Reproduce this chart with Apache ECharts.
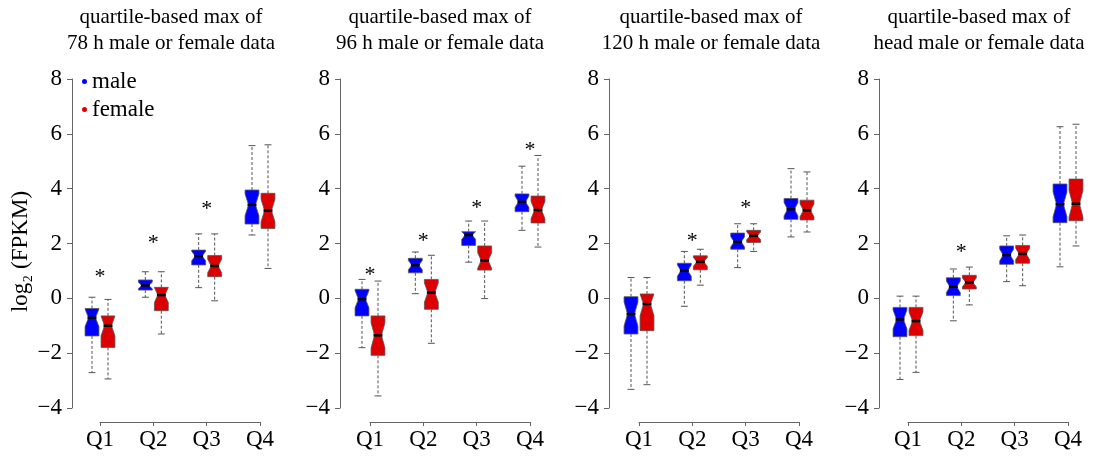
<!DOCTYPE html>
<html>
<head>
<meta charset="utf-8">
<script src="https://cdn.jsdelivr.net/npm/echarts@6/dist/echarts.min.js"></script>
<style>
  html, body { margin: 0; padding: 0; background: #fff; }
  #chart { width: 1093px; height: 458px; }
</style>
</head>
<body>
<div id="chart"></div>
<script>
// categories and panel titles
const categories = ["Q1", "Q2", "Q3", "Q4"];
const titles = [
  "quartile-based max of\n78 h male or female data",
  "quartile-based max of\n96 h male or female data",
  "quartile-based max of\n120 h male or female data",
  "quartile-based max of\nhead male or female data",
];

// box stats per quartile: [low whisker, Q1, median, Q3, high whisker]
const male78 = [
  [-2.71, -1.37, -0.71, -0.37, 0.04],
  [0.04, 0.30, 0.47, 0.67, 0.97],
  [0.39, 1.22, 1.54, 1.76, 2.35],
  [2.31, 2.71, 3.41, 3.95, 5.57],
];
const female78 = [
  [-2.94, -1.79, -1.00, -0.64, -0.04],
  [-1.30, -0.45, 0.12, 0.40, 0.97],
  [-0.09, 0.79, 1.18, 1.56, 2.35],
  [1.09, 2.55, 3.20, 3.83, 5.60],
];
const male96 = [
  [-1.80, -0.64, -0.03, 0.33, 0.69],
  [0.17, 0.93, 1.21, 1.46, 1.69],
  [1.32, 1.93, 2.31, 2.43, 2.82],
  [2.48, 3.16, 3.52, 3.81, 4.82],
];
const female96 = [
  [-3.56, -2.08, -1.35, -0.64, 0.63],
  [-1.64, -0.40, 0.21, 0.69, 1.57],
  [-0.01, 1.03, 1.38, 1.91, 2.82],
  [1.87, 2.75, 3.22, 3.73, 5.21],
];
const male120 = [
  [-3.32, -1.30, -0.57, 0.06, 0.76],
  [-0.29, 0.64, 1.01, 1.28, 1.71],
  [1.12, 1.79, 2.06, 2.38, 2.72],
  [2.24, 2.88, 3.25, 3.64, 4.73],
];
const female120 = [
  [-3.15, -1.18, -0.21, 0.16, 0.76],
  [0.48, 1.04, 1.33, 1.55, 1.79],
  [1.71, 2.04, 2.28, 2.48, 2.72],
  [2.42, 2.86, 3.21, 3.58, 4.61],
];
const maleHead = [
  [-2.96, -1.40, -0.77, -0.33, 0.08],
  [-0.82, 0.10, 0.42, 0.75, 1.07],
  [0.61, 1.24, 1.58, 1.91, 2.28],
  [1.15, 2.76, 3.43, 4.17, 6.26],
];
const femaleHead = [
  [-2.70, -1.36, -0.83, -0.33, 0.08],
  [-0.24, 0.34, 0.58, 0.84, 1.14],
  [0.46, 1.28, 1.62, 1.93, 2.31],
  [1.91, 2.83, 3.45, 4.35, 6.35],
];

// significance asterisks (null = none)
const stars78 = [0.95, 2.19, 3.44, null];
const stars96 = [1.02, 2.25, 3.46, 5.6];
const stars120 = [null, 2.25, 3.47, null];
const starsHead = [null, 1.88, null, null];

const yTicks = { min: -4, max: 8, interval: 2 };

const panels = [
  { male: male78, female: female78, stars: stars78 },
  { male: male96, female: female96, stars: stars96 },
  { male: male120, female: female120, stars: stars120 },
  { male: maleHead, female: femaleHead, stars: starsHead },
];

// layout
const FONT = "Liberation Serif";
const BLUE = "#0000ff";
const RED = "#dd0000";
const AXIS = "#666";
const gridLeft = [100, 370, 639, 908];
const axisX = [72, 340, 609, 879];
const titleX = [171, 440, 711, 979];
const GRID_TOP = 79;
const GRID_H = 329;
const GRID_W = 160;
const SHIFT = 0.15;
const BOX_W = 0.26;
const NOTCH = 0.32;

function boxRenderer(shift, color) {
  return function (params, api) {
    const i = api.value(0) + shift;
    const vLow = api.value(1), vQ1 = api.value(2), vMed = api.value(3);
    const vQ3 = api.value(4), vHigh = api.value(5);
    const med = api.coord([i, vMed]);
    const x = med[0];
    const yLow = api.coord([i, vLow])[1];
    const yQ1 = api.coord([i, vQ1])[1];
    const yQ3 = api.coord([i, vQ3])[1];
    const yHigh = api.coord([i, vHigh])[1];
    const n = NOTCH * (vQ3 - vQ1);
    const yNT = api.coord([i, Math.min(vQ3, vMed + n)])[1];
    const yNB = api.coord([i, Math.max(vQ1, vMed - n)])[1];
    const hw = api.size([BOX_W, 0])[0] / 2;
    const dash = { stroke: "#555", lineWidth: 1, lineDash: [3, 2] };
    const solid = { stroke: "#555", lineWidth: 1 };
    return {
      type: "group",
      children: [
        { type: "line", shape: { x1: x, y1: yQ3, x2: x, y2: yHigh }, style: dash },
        { type: "line", shape: { x1: x, y1: yQ1, x2: x, y2: yLow }, style: dash },
        { type: "line", shape: { x1: x - hw / 2, y1: yHigh, x2: x + hw / 2, y2: yHigh }, style: solid },
        { type: "line", shape: { x1: x - hw / 2, y1: yLow, x2: x + hw / 2, y2: yLow }, style: solid },
        {
          type: "polygon",
          shape: {
            points: [
              [x - hw, yQ3], [x + hw, yQ3], [x + hw, yNT], [x + hw / 2, med[1]],
              [x + hw, yNB], [x + hw, yQ1], [x - hw, yQ1], [x - hw, yNB],
              [x - hw / 2, med[1]], [x - hw, yNT],
            ],
          },
          style: { fill: color, stroke: "#555", lineWidth: 0.8 },
        },
        {
          type: "line",
          shape: { x1: x - hw / 2 - 1, y1: med[1], x2: x + hw / 2 + 1, y2: med[1] },
          style: { stroke: "#000", lineWidth: 2.5 },
        },
      ],
    };
  };
}

function starRenderer(params, api) {
  const p = api.coord([api.value(0), api.value(1)]);
  return {
    type: "text",
    x: p[0],
    y: p[1] + 5,
    style: {
      text: "*",
      font: "22px '" + FONT + "'",
      fill: "#000",
      align: "center",
      verticalAlign: "middle",
    },
  };
}

function getOption() {
  const grid = [], xAxis = [], yAxis = [], series = [], title = [];
  panels.forEach(function (panel, p) {
    grid.push({
      left: gridLeft[p], top: GRID_TOP, width: GRID_W, height: GRID_H,
      containLabel: false, outerBoundsMode: "none",
    });
    title.push({
      text: titles[p],
      left: titleX[p],
      top: 0,
      padding: [4, 0, 0, 0],
      textAlign: "center",
      textStyle: { fontFamily: FONT, fontSize: 21, fontWeight: "normal", color: "#000", lineHeight: 26 },
    });
    xAxis.push({
      gridIndex: p, type: "value", min: 0, max: 3, interval: 1, offset: 14,
      axisLine: { show: true, onZero: false, lineStyle: { color: AXIS } },
      axisTick: { show: true, length: 4, lineStyle: { color: AXIS } },
      splitLine: { show: false },
      axisLabel: {
        formatter: function (v) { return categories[v]; },
        fontFamily: FONT, fontSize: 23, color: "#000", margin: 6,
      },
    });
    const y = {
      gridIndex: p, type: "value", min: yTicks.min, max: yTicks.max, interval: yTicks.interval,
      offset: gridLeft[p] - axisX[p],
      axisLine: { show: true, onZero: false, lineStyle: { color: AXIS } },
      axisTick: { show: true, length: 5, lineStyle: { color: AXIS } },
      splitLine: { show: false },
      axisLabel: {
        formatter: function (v) { return v < 0 ? "\u2212" + (-v) : String(v); },
        fontFamily: FONT, fontSize: 23, color: "#000", margin: 10,
      },
    };
    if (p === 0) {
      y.name = "log\u2082 (FPKM)";
      y.nameLocation = "middle";
      y.nameRotate = 90;
      y.nameGap = 40;
      y.nameTextStyle = {
        fontFamily: FONT, fontSize: 23, color: "#000", padding: [0, 16, 0, 0],
      };
    }
    yAxis.push(y);

    series.push({
      type: "custom", name: "male", xAxisIndex: p, yAxisIndex: p, clip: false,
      itemStyle: { color: BLUE },
      encode: { x: 0, y: [1, 2, 3, 4, 5] },
      data: panel.male.map(function (d, i) { return [i].concat(d); }),
      renderItem: boxRenderer(-SHIFT, BLUE),
    });
    series.push({
      type: "custom", name: "female", xAxisIndex: p, yAxisIndex: p, clip: false,
      itemStyle: { color: RED },
      encode: { x: 0, y: [1, 2, 3, 4, 5] },
      data: panel.female.map(function (d, i) { return [i].concat(d); }),
      renderItem: boxRenderer(SHIFT, RED),
    });
    const starData = [];
    panel.stars.forEach(function (v, i) { if (v !== null) starData.push([i, v]); });
    series.push({
      type: "custom", name: "stars" + p, xAxisIndex: p, yAxisIndex: p, clip: false,
      encode: { x: 0, y: 1 },
      data: starData,
      renderItem: starRenderer,
    });
  });

  return {
    animation: false,
    backgroundColor: "#fff",
    title: title,
    legend: {
      data: [{ name: "male" }, { name: "female" }],
      orient: "vertical",
      left: 82,
      top: 70,
      padding: 0,
      icon: "circle",
      itemWidth: 5,
      itemHeight: 5,
      itemGap: 5,
      selectedMode: false,
      textStyle: { fontFamily: FONT, fontSize: 23, color: "#000" },
    },
    grid: grid,
    xAxis: xAxis,
    yAxis: yAxis,
    series: series,
  };
}

const chart = echarts.init(document.getElementById("chart"));
chart.setOption(getOption());
</script>
</body>
</html>
